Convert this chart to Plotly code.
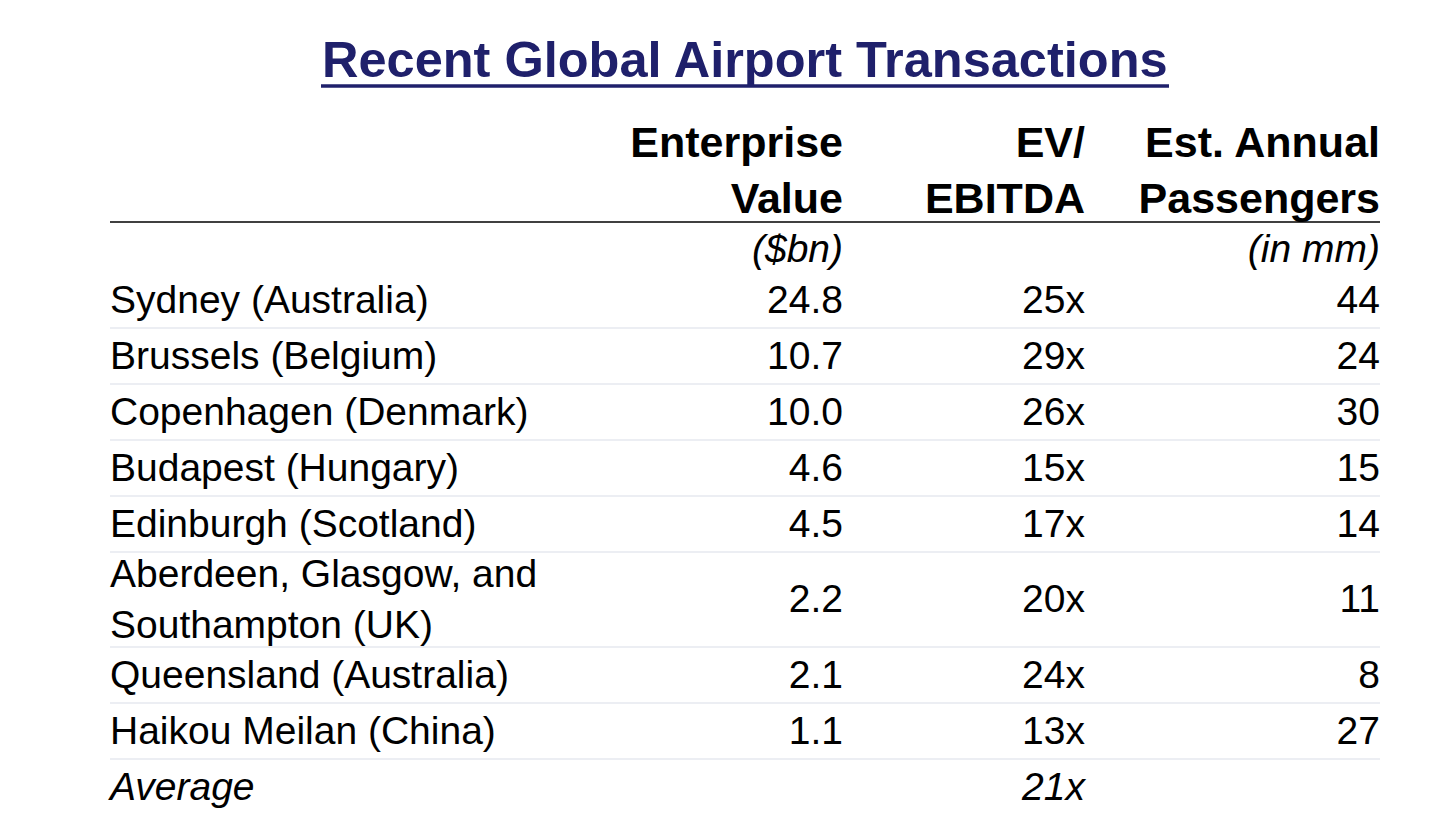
import plotly.graph_objects as go

# Table data
airports = ["Sydney (Australia)", "Brussels (Belgium)", "Copenhagen (Denmark)",
            "Budapest (Hungary)", "Edinburgh (Scotland)",
            "Aberdeen, Glasgow, and<br>Southampton (UK)",
            "Queensland (Australia)", "Haikou Meilan (China)"]
enterprise_value = [24.8, 10.7, 10.0, 4.6, 4.5, 2.2, 2.1, 1.1]
ev_ebitda = [25, 29, 26, 15, 17, 20, 24, 13]
passengers = [44, 24, 30, 15, 14, 11, 8, 27]
average_label = "Average"
average_ev_ebitda = 21

headers = ["Enterprise<br>Value", "EV/<br>EBITDA", "Est. Annual<br>Passengers"]
units = ["($bn)", "", "(in mm)"]
title = "Recent Global Airport Transactions"

# Layout (pixel units, y grows downward)
W, H = 1456, 815
PAGE = 8  # default body margin of the html page
FONT = "Liberation Sans, Arial, sans-serif"
NAVY = "#1F206B"
x_left, x_ev, x_mult, x_pass = 110, 843, 1085, 1380
row_h, line_h = 56, 39
body_size, head_size = 39, 43
text_dy = 3  # text middle sits a little above the point

# row centres built from the number of text lines in each row
row_tops, row_mid = [], []
top = 272
for name in airports + [average_label]:
    n_lines = name.count("<br>") + 1
    h = row_h + line_h * (n_lines - 1)
    row_tops.append(top)
    row_mid.append(top + h / 2 + text_dy)
    top += h

ys = row_mid[:len(airports)]
y_avg = row_mid[-1]

fig = go.Figure()

body_font = dict(family=FONT, size=body_size, color="black")

# airport names
fig.add_trace(go.Scatter(
    x=[x_left] * len(airports), y=ys, text=airports,
    mode="text", textposition="middle right", textfont=body_font,
    hoverinfo="skip", showlegend=False
))
# numeric columns
for xc, vals in [(x_ev, [f"{v:.1f}" for v in enterprise_value]),
                 (x_mult, [f"{v}x" for v in ev_ebitda]),
                 (x_pass, [str(v) for v in passengers])]:
    fig.add_trace(go.Scatter(
        x=[xc] * len(vals), y=ys, text=vals,
        mode="text", textposition="middle left", textfont=body_font,
        hoverinfo="skip", showlegend=False
    ))

# average row
fig.add_trace(go.Scatter(
    x=[x_left], y=[y_avg], text=[f"<i>{average_label}</i>"],
    mode="text", textposition="middle right", textfont=body_font,
    hoverinfo="skip", showlegend=False
))
fig.add_trace(go.Scatter(
    x=[x_mult], y=[y_avg], text=[f"<i>{average_ev_ebitda}x</i>"],
    mode="text", textposition="middle left", textfont=body_font,
    hoverinfo="skip", showlegend=False
))

# headers and units
cols = [x_ev, x_mult, x_pass]
fig.add_trace(go.Scatter(
    x=cols, y=[174] * 3, text=[f"<b>{h}</b>" for h in headers],
    mode="text", textposition="middle left",
    textfont=dict(family=FONT, size=head_size, color="black"),
    hoverinfo="skip", showlegend=False
))
fig.add_trace(go.Scatter(
    x=cols, y=[252] * 3, text=[f"<i>{u}</i>" for u in units],
    mode="text", textposition="middle left", textfont=body_font,
    hoverinfo="skip", showlegend=False
))

# header rule and light row separators
fig.add_shape(type="line", x0=x_left, x1=x_pass, y0=222, y1=222,
              line=dict(color="black", width=1.5))
for t in row_tops[1:]:
    fig.add_shape(type="line", x0=x_left, x1=x_pass, y0=t, y1=t,
                  line=dict(color="#E6E9EF", width=1.5))

# title with underline
fig.add_annotation(x=745, y=59, text=f"<b>{title}</b>", showarrow=False,
                   xanchor="center", yanchor="middle",
                   font=dict(family=FONT, size=50.5, color=NAVY))
fig.add_shape(type="line", x0=321, x1=1169, y0=86, y1=86,
              line=dict(color=NAVY, width=3.5))

fig.update_layout(
    width=W, height=H,
    margin=dict(l=0, r=0, t=0, b=0),
    paper_bgcolor="white", plot_bgcolor="white",
    xaxis=dict(range=[PAGE, W + PAGE], visible=False, fixedrange=True),
    yaxis=dict(range=[H + PAGE, PAGE], visible=False, fixedrange=True),
)

fig.write_html("out.html")
